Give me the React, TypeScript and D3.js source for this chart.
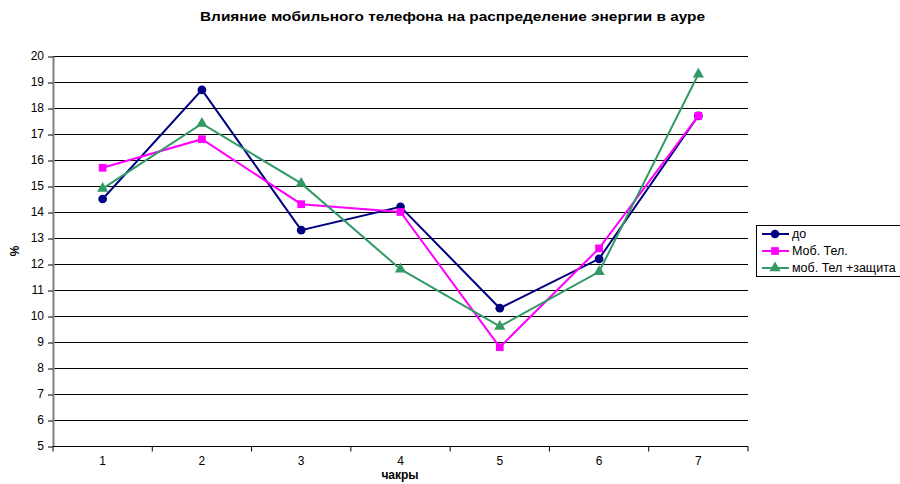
import React, { useEffect, useRef } from "react";
import * as d3 from "d3";

const categories = ["1", "2", "3", "4", "5", "6", "7"];
const seriesDo = [14.5, 18.7, 13.3, 14.2, 10.3, 12.2, 17.7];
const seriesMob = [15.7, 16.8, 14.3, 14.0, 8.8, 12.6, 17.7];
const seriesProt = [14.9, 17.4, 15.1, 11.8, 9.6, 11.7, 19.3];
const yTicks = [5, 6, 7, 8, 9, 10, 11, 12, 13, 14, 15, 16, 17, 18, 19, 20];

const series = [
  { name: "до", values: seriesDo, color: "#000080", symbol: d3.symbolCircle, size: 60 },
  { name: "Моб. Тел.", values: seriesMob, color: "#ff00ff", symbol: d3.symbolSquare, size: 60 },
  { name: "моб. Тел +защита", values: seriesProt, color: "#339966", symbol: d3.symbolTriangle, size: 55 },
];

const App = () => {
  const ref = useRef<SVGSVGElement>(null);

  useEffect(() => {
    const width = 900;
    const height = 484;
    const margin = { top: 56, right: 152, bottom: 38, left: 53 };

    const svg = d3.select(ref.current);
    svg.selectAll("*").remove();
    svg.attr("width", width).attr("height", height);

    const font = "Arial, 'Liberation Sans', sans-serif";

    const x = d3
      .scaleBand()
      .domain(categories)
      .range([margin.left, width - margin.right]);

    const y = d3
      .scaleLinear()
      .domain([5, 20])
      .range([height - margin.bottom, margin.top]);

    // gridlines
    svg
      .append("g")
      .selectAll("line")
      .data(yTicks.slice(1))
      .enter()
      .append("line")
      .attr("x1", margin.left)
      .attr("x2", width - margin.right)
      .attr("y1", (d) => y(d) + 0.5)
      .attr("y2", (d) => y(d) + 0.5)
      .attr("stroke", "#000")
      .attr("stroke-width", 1);

    // y axis
    const yAxis = svg
      .append("g")
      .attr("transform", `translate(${margin.left},0)`)
      .call(d3.axisLeft(y).tickValues(yTicks).tickSize(5).tickSizeOuter(0).tickPadding(4));
    yAxis.select(".domain").attr("stroke", "#808080").attr("stroke-width", 2);
    yAxis.selectAll(".tick line").attr("stroke", "#000").attr("transform", "translate(0,0.5)");
    yAxis.selectAll("text").attr("font-family", font).attr("font-size", 12).attr("fill", "#000");

    // x axis
    const xAxisG = svg
      .append("g")
      .attr("transform", `translate(0,${y(5) + 0.5})`);
    xAxisG
      .append("line")
      .attr("x1", margin.left)
      .attr("x2", width - margin.right)
      .attr("stroke", "#000");
    const bounds = d3.range(categories.length + 1).map((i) => margin.left + i * x.bandwidth());
    xAxisG
      .selectAll(".xt")
      .data(bounds)
      .enter()
      .append("line")
      .attr("x1", (d) => d)
      .attr("x2", (d) => d)
      .attr("y1", 0)
      .attr("y2", 5)
      .attr("stroke", "#000");
    xAxisG
      .selectAll(".xl")
      .data(categories)
      .enter()
      .append("text")
      .attr("x", (d) => (x(d) as number) + x.bandwidth() / 2)
      .attr("y", 18)
      .attr("text-anchor", "middle")
      .attr("font-family", font)
      .attr("font-size", 12)
      .text((d) => d);

    const line = d3
      .line<number>()
      .x((_, i) => (x(categories[i]) as number) + x.bandwidth() / 2)
      .y((d) => y(d));

    series.forEach((s) => {
      svg
        .append("path")
        .datum(s.values)
        .attr("d", line)
        .attr("fill", "none")
        .attr("stroke", s.color)
        .attr("stroke-width", 2);
      svg
        .append("g")
        .selectAll("path")
        .data(s.values)
        .enter()
        .append("path")
        .attr("d", d3.symbol().type(s.symbol).size(s.size)())
        .attr(
          "transform",
          (d, i) => `translate(${(x(categories[i]) as number) + x.bandwidth() / 2},${y(d)})`
        )
        .attr("fill", s.color);
    });

    // title
    svg
      .append("text")
      .attr("x", 200)
      .attr("y", 21)
      .attr("font-family", font)
      .attr("font-size", 13)
      .attr("font-weight", "bold")
      .attr("textLength", 505)
      .attr("lengthAdjust", "spacingAndGlyphs")
      .text("Влияние мобильного телефона на распределение энергии в ауре");

    svg
      .append("text")
      .attr("transform", `translate(19,${(margin.top + height - margin.bottom) / 2}) rotate(-90)`)
      .attr("text-anchor", "middle")
      .attr("font-family", font)
      .attr("font-size", 12)
      .attr("font-weight", "bold")
      .text("%");

    svg
      .append("text")
      .attr("x", 400)
      .attr("y", 479)
      .attr("text-anchor", "middle")
      .attr("font-family", font)
      .attr("font-size", 12)
      .attr("font-weight", "bold")
      .text("чакры");

    // legend
    const lg = svg.append("g").attr("transform", "translate(756,225)");
    lg.append("rect")
      .attr("x", 0.5)
      .attr("y", 0.5)
      .attr("width", 150)
      .attr("height", 51)
      .attr("fill", "#fff")
      .attr("stroke", "#000");
    series.forEach((s, i) => {
      const cy = 9 + i * 17;
      lg.append("line")
        .attr("x1", 6)
        .attr("x2", 33)
        .attr("y1", cy)
        .attr("y2", cy)
        .attr("stroke", s.color)
        .attr("stroke-width", 2);
      lg.append("path")
        .attr("d", d3.symbol().type(s.symbol).size(s.size)())
        .attr("transform", `translate(19,${cy})`)
        .attr("fill", s.color);
      lg.append("text")
        .attr("x", 36)
        .attr("y", cy + 4)
        .attr("font-family", font)
        .attr("font-size", 12.5)
        .text(s.name);
    });
  }, []);

  return <svg ref={ref} style={{ position: "absolute", left: 0, top: 0 }}></svg>;
};

export default App;
